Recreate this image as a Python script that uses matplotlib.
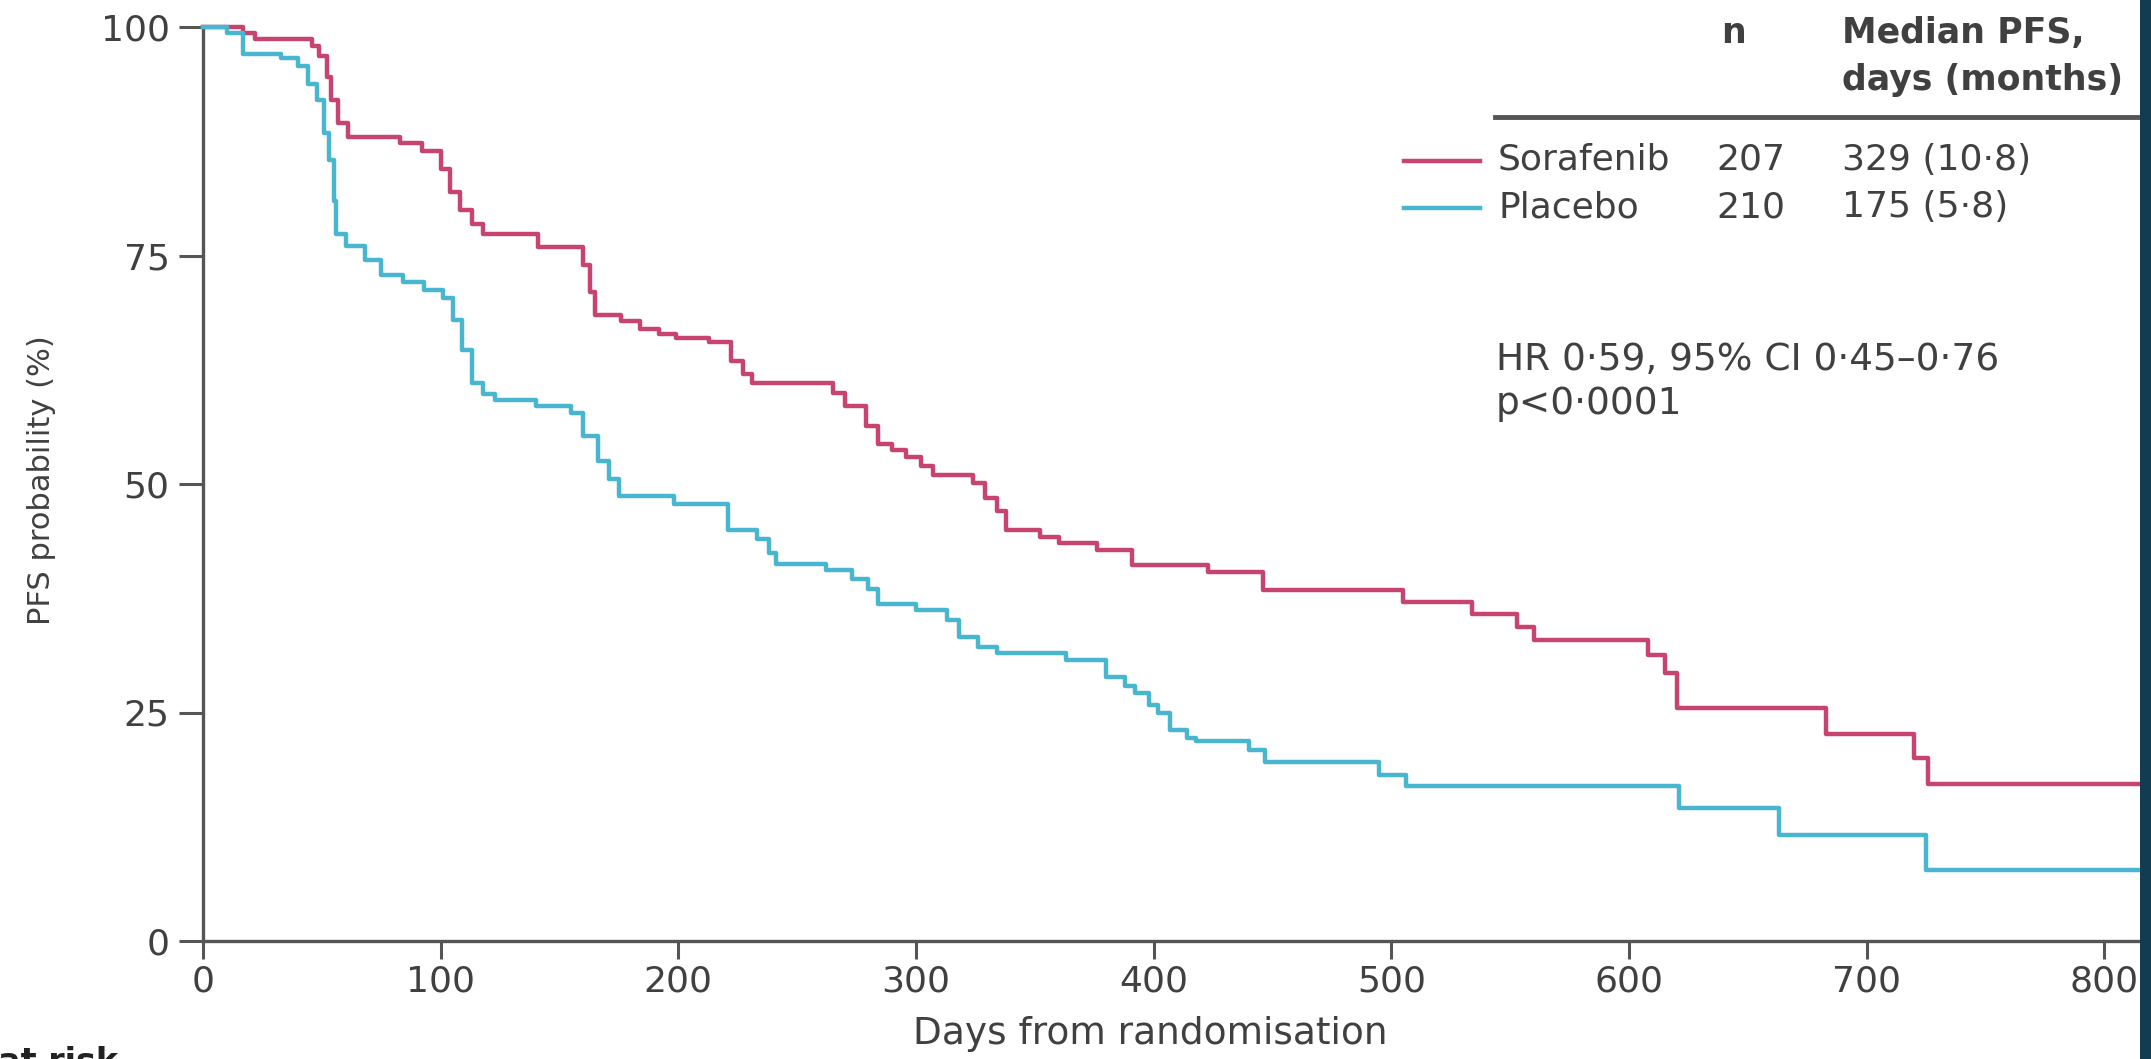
import numpy as np
import matplotlib.pyplot as plt
from matplotlib.patches import Rectangle

# Kaplan-Meier steps (day, PFS %)
sora_days = [0, 17, 22, 46, 49, 52, 54, 57, 61, 83, 92, 100, 104, 108, 113, 118, 141,
             160, 163, 165, 176, 184, 192, 199, 213, 222, 227, 231, 265, 270, 279, 284,
             290, 296, 302, 307, 324, 329, 334, 338, 352, 360, 376, 391, 423, 446, 505,
             534, 553, 560, 608, 615, 620, 683, 720, 726, 815]
sora_pfs = [100, 99.3, 98.7, 97.9, 96.8, 94.5, 92, 89.5, 88, 87.3, 86.4, 84.5, 82, 80,
            78.5, 77.4, 75.9, 74, 71, 68.5, 67.8, 67, 66.4, 66, 65.5, 63.5, 62, 61, 60,
            58.5, 56.3, 54.4, 53.7, 53, 52, 51, 50.1, 48.5, 47, 45, 44.2, 43.5, 42.8,
            41.1, 40.4, 38.4, 37.1, 35.8, 34.4, 32.9, 31.3, 29.3, 25.5, 22.7, 20, 17.2, 17.2]

plac_days = [0, 10, 17, 33, 40, 44, 48, 51, 53, 55, 56, 60, 68, 75, 84, 93, 101, 105,
             109, 113, 118, 123, 140, 155, 160, 166, 171, 175, 198, 221, 233, 238, 241,
             262, 273, 280, 284, 300, 313, 318, 326, 334, 363, 380, 388, 392, 398, 402,
             407, 414, 418, 440, 447, 495, 506, 621, 663, 725, 815]
plac_pfs = [100, 99.3, 97.1, 96.6, 95.7, 93.8, 92, 88.4, 85.4, 81, 77.4, 76, 74.5, 72.9,
            72.1, 71.2, 70.3, 67.9, 64.7, 61, 59.8, 59.2, 58.5, 57.8, 55.3, 52.5, 50.5,
            48.7, 47.8, 45, 44, 42.5, 41.2, 40.6, 39.6, 38.5, 36.9, 36.2, 35.1, 33.3,
            32.2, 31.5, 30.7, 28.9, 27.9, 27.1, 25.8, 24.9, 23.1, 22.2, 21.9, 20.9, 19.6,
            18.2, 17, 14.5, 11.6, 7.8, 7.8]

x_ticks = [0, 100, 200, 300, 400, 500, 600, 700, 800]
y_ticks = [0, 25, 50, 75, 100]

groups = ['Sorafenib', 'Placebo']
group_n = ['207', '210']
group_median = ['329 (10·8)', '175 (5·8)']

red = '#c6446f'
blue = '#48b6cf'
grey = '#404040'

plt.rcParams['font.family'] = ['DejaVu Sans']

W, H = 2151, 1059
fig = plt.figure(figsize=(W / 100, H / 100), dpi=100)

def fx(px):
    return px / W

def fy(py):
    return 1 - py / H

ax = fig.add_axes([fx(203), fy(941), (2140 - 203) / W, (941 - 27) / H])
ax.step(sora_days, sora_pfs, where='post', color=red, lw=3.2, clip_on=False, zorder=3)
ax.step(plac_days, plac_pfs, where='post', color=blue, lw=3.2, clip_on=False, zorder=3)

ax.set_xlim(0, 815)
ax.set_ylim(0, 100)
ax.set_xticks(x_ticks)
ax.set_yticks(y_ticks)
for s in ['top', 'right']:
    ax.spines[s].set_visible(False)
for s in ['left', 'bottom']:
    ax.spines[s].set_color('#555555')
    ax.spines[s].set_linewidth(2.4)
ax.tick_params(direction='out', width=2.2, color='#555555', labelsize=26, labelcolor=grey)
ax.tick_params(axis='x', length=13, pad=4)
ax.tick_params(axis='y', length=17, pad=7)

fig.text(fx(1150), fy(1044), 'Days from randomisation', fontsize=27, color=grey,
         ha='center', va='baseline')
fig.text(fx(42), fy(480), 'PFS probability (%)', fontsize=22, color=grey,
         rotation=90, ha='center', va='center')
fig.text(fx(118), fy(1072), 'Number at risk', fontsize=24, color='#222222',
         fontweight='bold', ha='right', va='baseline')

# legend table, top right
fig.text(fx(1734), fy(43), 'n', fontsize=25, color=grey, fontweight='bold',
         ha='center', va='baseline')
fig.text(fx(1842), fy(43), 'Median PFS,', fontsize=25, color=grey, fontweight='bold',
         ha='left', va='baseline')
fig.text(fx(1842), fy(90), 'days (months)', fontsize=25, color=grey, fontweight='bold',
         ha='left', va='baseline')
fig.add_artist(plt.Line2D([fx(1495), fx(2140)], [fy(117), fy(117)], color='#555555', lw=3.5))

row_y = [170, 217]
colors = [red, blue]
for i in range(2):
    yy = row_y[i]
    fig.add_artist(plt.Line2D([fx(1404), fx(1480)], [fy(yy - 9), fy(yy - 9)],
                              color=colors[i], lw=3.2))
    fig.text(fx(1498), fy(yy), groups[i], fontsize=26, color=grey, va='baseline')
    fig.text(fx(1716), fy(yy), group_n[i], fontsize=26, color=grey, va='baseline')
    fig.text(fx(1842), fy(yy), group_median[i], fontsize=26, color=grey, va='baseline')

fig.text(fx(1496), fy(370), 'HR 0·59, 95% CI 0·45–0·76', fontsize=27, color=grey,
         va='baseline')
fig.text(fx(1496), fy(414), 'p<0·0001', fontsize=27, color=grey, va='baseline')

# dark strip on the right edge
fig.patches.append(Rectangle((fx(2140), 0), 1 - fx(2140), 1, transform=fig.transFigure,
                             facecolor='#113c52', edgecolor='none', zorder=10))

fig.savefig('out.png', dpi=100)
